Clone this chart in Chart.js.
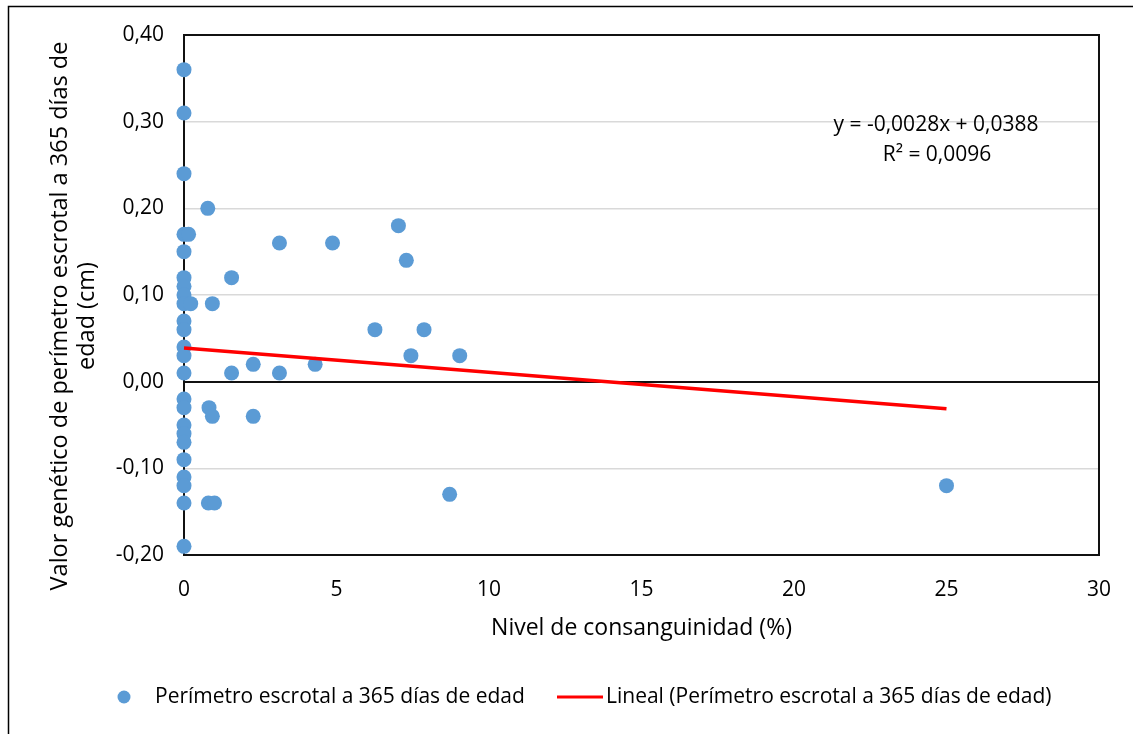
<!DOCTYPE html>
<html lang="es">
<head>
<meta charset="utf-8">
<title>Perímetro escrotal vs. consanguinidad</title>
<script src="https://cdn.jsdelivr.net/npm/chart.js@4.4.1/dist/chart.umd.min.js"></script>
<style>
  html, body { margin: 0; padding: 0; background: #fff; }
  #wrap { position: relative; width: 1133px; height: 734px; }
</style>
</head>
<body>
<div id="wrap"><canvas id="chart"></canvas></div>
<script>
// Inbreeding level (%) of each animal
const consanguinidad = [
  0, 0, 0, 0, 0, 0, 0, 0, 0, 0, 0, 0,
  0, 0, 0, 0, 0, 0, 0, 0, 0, 0, 0, 0,
  0.15, 0.22, 0.78, 1.56, 0.93, 1.56, 2.27, 3.13, 4.30, 3.13, 4.87, 7.03,
  7.29, 6.26, 7.87, 7.44, 9.04, 0.82, 0.93, 2.27, 0.80, 1.00, 8.71, 25.0
];
// Genetic value for scrotal perimeter at 365 days (cm)
const valorGenetico = [
  0.36, 0.31, 0.24, 0.17, 0.15, 0.12, 0.11, 0.10, 0.09, 0.07, 0.06, 0.04,
  0.03, 0.01, -0.02, -0.03, -0.05, -0.06, -0.07, -0.09, -0.11, -0.12, -0.14, -0.19,
  0.17, 0.09, 0.20, 0.12, 0.09, 0.01, 0.02, 0.01, 0.02, 0.16, 0.16, 0.18,
  0.14, 0.06, 0.06, 0.03, 0.03, -0.03, -0.04, -0.04, -0.14, -0.14, -0.13, -0.12
];

// Linear trend as reported by the fitted equation
const pendiente = -0.0028;
const intercepto = 0.0388;
const r2 = 0.0096;
const tendenciaX = [0, 25];

const xTicks = [0, 5, 10, 15, 20, 25, 30];
const yTicks = [-0.2, -0.1, 0, 0.1, 0.2, 0.3, 0.4];

const serieNombre = 'Perímetro escrotal a 365 días de edad';
const tendenciaNombre = 'Lineal (Perímetro escrotal a 365 días de edad)';
const xTitulo = 'Nivel de consanguinidad (%)';
const yTitulo = ['Valor genético de perímetro escrotal a 365 días de', 'edad (cm)'];

const FONT = '"Open Sans", "Noto Sans", sans-serif';
const AZUL = '#5B9BD5';
const ROJO = '#FF0000';
const TEXTO = '#000';

const fmt = v => v.toFixed(2).replace('.', ',');
const fmtCoef = v => v.toFixed(4).replace('.', ',');

const puntos = consanguinidad.map((x, i) => ({ x, y: valorGenetico[i] }));
const tendencia = tendenciaX.map(x => ({ x, y: pendiente * x + intercepto }));

// Frames, axis titles, equation and legend drawn on the canvas
const extras = {
  id: 'extras',
  beforeDraw(chart) {
    const c = chart.ctx;
    c.save();
    c.fillStyle = '#fff';
    c.fillRect(0, 0, chart.width, chart.height);
    c.strokeStyle = '#000';
    c.lineWidth = 1.5;
    c.strokeRect(8.5, 6.5, chart.width + 20, chart.height + 20);
    c.restore();
  },
  beforeDatasetsDraw(chart) {
    const a = chart.chartArea;
    const c = chart.ctx;
    c.save();
    c.strokeStyle = '#111';
    c.lineWidth = 2;
    c.strokeRect(a.left, a.top, a.right - a.left, a.bottom - a.top);
    c.restore();
  },
  afterDraw(chart) {
    const c = chart.ctx;
    const a = chart.chartArea;
    c.save();
    c.fillStyle = TEXTO;
    c.textBaseline = 'middle';

    // x axis title
    c.font = '23px ' + FONT;
    c.textAlign = 'center';
    c.fillText(xTitulo, (a.left + a.right) / 2, 628);

    // y axis title (two lines, rotated)
    c.save();
    c.font = '23.5px ' + FONT;
    c.translate(60, 316);
    c.rotate(-Math.PI / 2);
    c.fillText(yTitulo[0], 0, 0);
    c.fillText(yTitulo[1], 0, 27);
    c.restore();

    // trend equation
    c.font = '21px ' + FONT;
    c.fillText('y = ' + fmtCoef(pendiente) + 'x + ' + fmtCoef(intercepto), 936, 125);
    c.fillText('R² = ' + fmtCoef(r2), 937, 155);

    // legend
    const ly = 697;
    c.textAlign = 'left';
    c.beginPath();
    c.arc(124, ly, 6.5, 0, Math.PI * 2);
    c.fillStyle = AZUL;
    c.fill();
    c.fillStyle = TEXTO;
    c.font = '21px ' + FONT;
    c.fillText(serieNombre, 155, ly);
    c.strokeStyle = ROJO;
    c.lineWidth = 3;
    c.beginPath();
    c.moveTo(557, ly);
    c.lineTo(603, ly);
    c.stroke();
    c.fillText(tendenciaNombre, 606, ly);
    c.restore();
  }
};

new Chart(document.getElementById('chart'), {
  type: 'scatter',
  data: {
    datasets: [
      {
        label: tendenciaNombre,
        type: 'line',
        data: tendencia,
        borderColor: ROJO,
        borderWidth: 3.5,
        pointRadius: 0,
        fill: false,
        clip: false,
        order: 0
      },
      {
        label: serieNombre,
        data: puntos,
        backgroundColor: AZUL,
        borderWidth: 0,
        pointRadius: 7.5,
        pointHoverRadius: 7.5,
        clip: false,
        order: 1
      }
    ]
  },
  options: {
    responsive: true,
    maintainAspectRatio: false,
    devicePixelRatio: 1,
    animation: false,
    layout: { padding: { left: 0, right: 33, top: 35, bottom: 0 } },
    plugins: {
      legend: { display: false },
      tooltip: { enabled: false }
    },
    scales: {
      x: {
        type: 'linear',
        min: 0,
        max: 30,
        afterFit: s => { s.height = 179; },
        afterBuildTicks: s => { s.ticks = xTicks.map(v => ({ value: v })); },
        grid: { display: false, drawTicks: false },
        border: { display: true, color: '#111', width: 2 },
        ticks: {
          padding: 22,
          color: TEXTO,
          font: { family: FONT, size: 21 },
          callback: v => String(v)
        }
      },
      y: {
        type: 'linear',
        min: -0.2,
        max: 0.4,
        afterFit: s => { s.width = 184; },
        afterBuildTicks: s => { s.ticks = yTicks.map(v => ({ value: v })); },
        grid: {
          drawTicks: false,
          color: ctx => (Math.abs(ctx.tick.value) < 1e-9 ? '#111' : '#D9D9D9'),
          lineWidth: ctx => (Math.abs(ctx.tick.value) < 1e-9 ? 2 : 1.5)
        },
        border: { display: true, color: '#111', width: 2 },
        ticks: {
          padding: 20,
          color: TEXTO,
          font: { family: FONT, size: 21 },
          callback: v => fmt(v)
        }
      }
    }
  },
  plugins: [extras]
});
</script>
</body>
</html>
